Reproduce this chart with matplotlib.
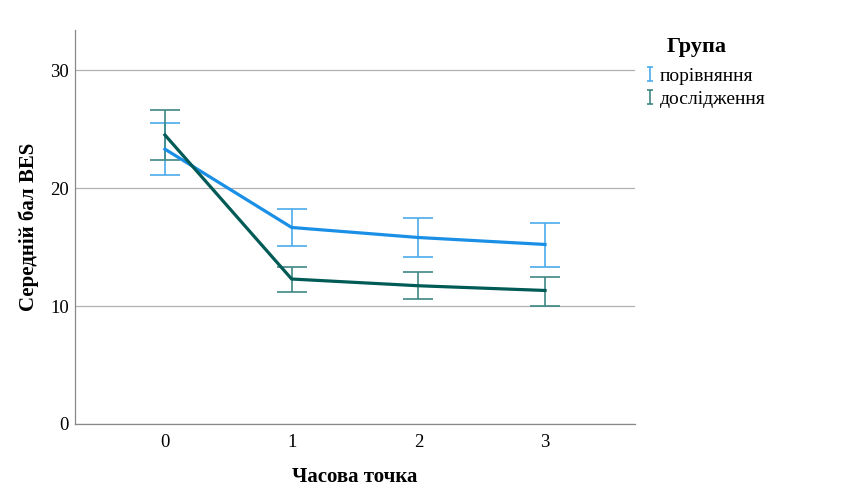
import matplotlib
matplotlib.use("Agg")
import matplotlib.pyplot as plt
from matplotlib.path import Path
from matplotlib.lines import Line2D

time_points = [0, 1, 2, 3]
groups = ["порівняння", "дослідження"]
mean_cmp = [23.3, 16.66, 15.81, 15.22]
low_cmp = [21.15, 15.05, 14.15, 13.33]
high_cmp = [25.5, 18.25, 17.48, 17.03]
mean_exp = [24.5, 12.29, 11.72, 11.32]
low_exp = [22.4, 11.15, 10.59, 10.03]
high_exp = [26.6, 13.33, 12.85, 12.48]
y_ticks = [0, 10, 20, 30]

plt.rcParams['font.family'] = ['Liberation Serif', 'DejaVu Serif']

line_colors = ["#1A8FE6", "#005A55"]
err_colors = ["#4BACEC", "#3E8884"]

fig = plt.figure(figsize=(8.5, 5), dpi=100)
ax = fig.add_axes([75/850, 76/500, 560/850, 394/500])

series = [(mean_cmp, low_cmp, high_cmp), (mean_exp, low_exp, high_exp)]
for i, (m, lo, hi) in enumerate(series):
    yerr = [[mm - l for mm, l in zip(m, lo)], [h - mm for mm, h in zip(m, hi)]]
    ax.errorbar(time_points, m, yerr=yerr, fmt='none', ecolor=err_colors[i],
                elinewidth=1.2, capsize=11, capthick=1.2, zorder=2)
for i, (m, lo, hi) in enumerate(series):
    ax.plot(time_points, m, color=line_colors[i], lw=2.3, zorder=3,
            solid_joinstyle='miter')

ax.set_xlim(-0.71, 3.71)
ax.set_ylim(0, 33.4)
ax.set_xticks(time_points)
ax.set_yticks(y_ticks)
ax.tick_params(length=0, labelsize=13.5, colors='black', pad=4.5)
ax.tick_params(axis='x', pad=7)
ax.yaxis.grid(True, color='#b0b0b0', lw=0.9)
ax.set_axisbelow(True)
for s in ['top', 'right']:
    ax.spines[s].set_visible(False)
for s in ['left', 'bottom']:
    ax.spines[s].set_color('#888888')
    ax.spines[s].set_linewidth(0.9)

ax.set_xlabel("Часова точка", fontsize=15, fontweight='bold', labelpad=12)
ax.set_ylabel("Середній бал BES", fontsize=15, fontweight='bold', labelpad=8)

fig.text(697/850, 1 - 47/500, "Група", fontsize=16, fontweight='bold',
         ha='center', va='center')

ibeam = Path([(-0.5, -1), (0.5, -1), (0, -1), (0, 1), (-0.5, 1), (0.5, 1)],
             [Path.MOVETO, Path.LINETO, Path.MOVETO, Path.LINETO, Path.MOVETO, Path.LINETO])
handles = [Line2D([], [], ls='none', marker=ibeam, markersize=10, markerfacecolor='none',
                  markeredgecolor=err_colors[i], markeredgewidth=1.2) for i in range(2)]
leg = fig.legend(handles, groups, loc='upper left',
                 bbox_to_anchor=(627/850, 1 - 50/500), frameon=False,
                 fontsize=14, handlelength=0.6, handletextpad=0.2, labelspacing=0.25)

fig.savefig("out.png", dpi=100)
